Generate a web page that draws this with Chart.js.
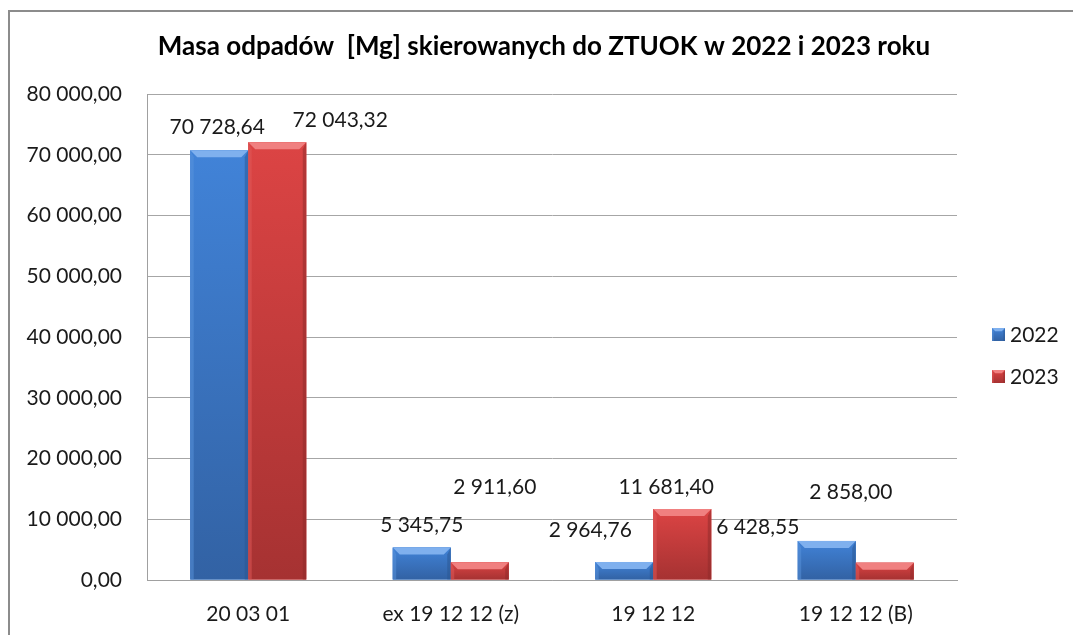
<!DOCTYPE html>
<html lang="pl">
<head>
  <meta charset="utf-8">
  <script src="https://cdn.jsdelivr.net/npm/chart.js"></script>
  <style>
    html, body { margin: 0; padding: 0; background: #fff; }
    canvas { display: block; }
  </style>
</head>
<body>
  <canvas id="odpadyChart" width="1073" height="635"></canvas>

  <script>
    // dane z wykresu
    const categories = ['20 03 01', 'ex 19 12 12 (z)', '19 12 12', '19 12 12 (B)'];
    const values2022 = [70728.64, 5345.75, 2964.76, 6428.55];
    const values2023 = [72043.32, 2911.60, 11681.40, 2858.00];
    const seriesNames = ['2022', '2023'];
    const yTicks = [0, 10000, 20000, 30000, 40000, 50000, 60000, 70000, 80000];

    // przesuniecia etykiet (px) wzgledem srodka gornej krawedzi slupka
    const labelNudge = [
      [[-2, -23], [0, -22], [-34, -32], [-69, -14]],
      [[63, -22], [15, -75], [-16, -22], [-34, -70]]
    ];

    const palettes = [
      { top: '#4183d8', bottom: '#3262a4', light: '#7fb0ee', side: '#5a93dc', dark: '#2a5590' },
      { top: '#dc4444', bottom: '#a63232', light: '#f08080', side: '#e05a5a', dark: '#8e2a2a' }
    ];

    const FONT = 'Lato, "Open Sans", sans-serif';

    function fmt(v) {
      const parts = v.toFixed(2).split('.');
      return parts[0].replace(/\B(?=(\d{3})+(?!\d))/g, ' ') + ',' + parts[1];
    }

    function bevelBox(ctx, l, t, r, b, pal) {
      const g = ctx.createLinearGradient(0, t, 0, b);
      g.addColorStop(0, pal.top);
      g.addColorStop(1, pal.bottom);
      ctx.fillStyle = g;
      ctx.fillRect(l, t, r - l, b - t);
      const e = Math.min(7, (b - t) / 2, (r - l) / 4);
      // gorna faseta
      ctx.fillStyle = pal.light;
      ctx.beginPath();
      ctx.moveTo(l, t); ctx.lineTo(r, t); ctx.lineTo(r - e, t + e); ctx.lineTo(l + e, t + e);
      ctx.closePath(); ctx.fill();
      // lewa
      ctx.globalAlpha = 0.5;
      ctx.fillStyle = pal.side;
      ctx.beginPath();
      ctx.moveTo(l, t); ctx.lineTo(l + e * 0.5, t + e); ctx.lineTo(l + e * 0.5, b); ctx.lineTo(l, b);
      ctx.closePath(); ctx.fill();
      // prawa
      ctx.fillStyle = pal.dark;
      ctx.beginPath();
      ctx.moveTo(r, t); ctx.lineTo(r - e * 0.5, t + e); ctx.lineTo(r - e * 0.5, b); ctx.lineTo(r, b);
      ctx.closePath(); ctx.fill();
      ctx.globalAlpha = 1;
    }

    const decorPlugin = {
      id: 'decor',
      beforeDraw(chart) {
        const ctx = chart.ctx;
        ctx.save();
        ctx.fillStyle = '#fff';
        ctx.fillRect(0, 0, chart.width, chart.height);
        ctx.strokeStyle = '#8c8c8c';
        ctx.lineWidth = 2;
        ctx.strokeRect(9, 11, chart.width + 20, chart.height + 20);
        ctx.restore();
      },
      afterDatasetsDraw(chart) {
        const ctx = chart.ctx;
        ctx.save();
        chart.data.datasets.forEach((ds, di) => {
          chart.getDatasetMeta(di).data.forEach((bar, i) => {
            const l = bar.x - bar.width / 2, r = bar.x + bar.width / 2;
            bevelBox(ctx, l, bar.y, r, bar.base, palettes[di]);
          });
        });
        // etykiety wartosci
        ctx.font = '21px ' + FONT;
        ctx.fillStyle = '#1a1a1a';
        ctx.textAlign = 'center';
        ctx.textBaseline = 'middle';
        chart.data.datasets.forEach((ds, di) => {
          chart.getDatasetMeta(di).data.forEach((bar, i) => {
            const n = labelNudge[di][i];
            ctx.fillText(fmt(ds.data[i]), bar.x + n[0], bar.y + n[1]);
          });
        });
        ctx.restore();
      },
      afterDraw(chart) {
        const ctx = chart.ctx;
        ctx.save();
        // tytul
        ctx.font = 'bold 26px ' + FONT;
        ctx.fillStyle = '#000';
        ctx.textAlign = 'center';
        ctx.textBaseline = 'middle';
        ctx.fillText('Masa odpadów  [Mg] skierowanych do ZTUOK w 2022 i 2023 roku', 544, 47);
        // legenda
        const rows = [334, 376];
        ctx.font = '21px ' + FONT;
        ctx.textAlign = 'left';
        seriesNames.forEach((name, k) => {
          const y = rows[k];
          bevelBox(ctx, 992, y - 6, 1005, y + 7, palettes[k]);
          ctx.fillStyle = '#1a1a1a';
          ctx.fillText(name, 1010, y + 1);
        });
        ctx.restore();
      }
    };

    new Chart(document.getElementById('odpadyChart'), {
      type: 'bar',
      data: {
        labels: categories,
        datasets: [
          { label: seriesNames[0], data: values2022, backgroundColor: palettes[0].top, borderWidth: 0 },
          { label: seriesNames[1], data: values2023, backgroundColor: palettes[1].top, borderWidth: 0 }
        ]
      },
      options: {
        responsive: false,
        animation: false,
        events: [],
        layout: { padding: { left: 10, right: 116, top: 94, bottom: 0 } },
        datasets: { bar: { categoryPercentage: 0.573, barPercentage: 1.0 } },
        plugins: {
          legend: { display: false },
          title: { display: false },
          tooltip: { enabled: false }
        },
        scales: {
          x: {
            grid: { display: false },
            border: { display: true, color: '#a0a0a0' },
            ticks: { color: '#1a1a1a', font: { family: FONT, size: 21 }, padding: 14, maxRotation: 0 },
            afterFit(scale) { scale.height = 55; }
          },
          y: {
            min: 0,
            max: 80000,
            afterBuildTicks(scale) { scale.ticks = yTicks.map(v => ({ value: v })); },
            grid: { color: '#a6a6a6', drawTicks: false },
            border: { display: true, color: '#a0a0a0' },
            ticks: {
              color: '#1a1a1a',
              font: { family: FONT, size: 21 },
              padding: 25,
              callback: v => fmt(v)
            },
            afterFit(scale) { scale.width = 137; }
          }
        }
      },
      plugins: [decorPlugin]
    });
  </script>
</body>
</html>
